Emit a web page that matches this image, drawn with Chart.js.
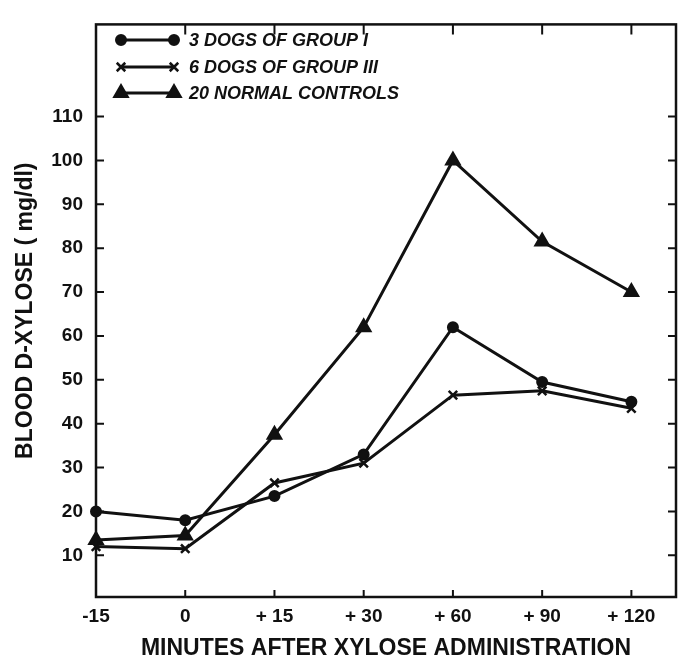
<!DOCTYPE html>
<html>
<head>
<meta charset="utf-8">
<script src="https://cdn.jsdelivr.net/npm/chart.js@4/dist/chart.umd.min.js"></script>
<style>
  html, body { margin: 0; padding: 0; background: #fff; }
  #wrap { width: 686px; height: 662px; }
</style>
</head>
<body>
<div id="wrap"><canvas id="xyloseChart" width="686" height="662"></canvas></div>
<script>
// time points (minutes after xylose administration)
const xLabels = ['-15', '0', '+ 15', '+ 30', '+ 60', '+ 90', '+ 120'];
const yTickValues = [10, 20, 30, 40, 50, 60, 70, 80, 90, 100, 110];

// blood D-xylose, mg/dl
const group1Values = [20, 18, 23.5, 33, 62, 49.5, 45];
const group3Values = [12, 11.5, 26.5, 31, 46.5, 47.5, 43.5];
const controlValues = [13.5, 14.5, 37.5, 62, 100, 81.5, 70];

const seriesNames = ['3 DOGS OF GROUP I', '6 DOGS OF GROUP III', '20 NORMAL CONTROLS'];

const ink = '#111';
const fontFamily = "'Liberation Sans', Arial, Helvetica, sans-serif";

function toPoints(values) {
  return values.map((v, i) => ({ x: i, y: v }));
}

function makeDataset(label, values, style, radius, markBorder) {
  return {
    label: label,
    data: toPoints(values),
    borderColor: ink,
    backgroundColor: ink,
    borderWidth: 3,
    pointStyle: style,
    pointRadius: radius,
    pointBorderWidth: markBorder,
    pointBackgroundColor: ink,
    pointBorderColor: ink,
    tension: 0,
    clip: false
  };
}

// frame with inward tick marks + legend drawn inside the plot
const framePlugin = {
  id: 'frame',
  afterDraw(chart) {
    const { ctx, chartArea: a, scales } = chart;
    const xs = scales.x, ys = scales.y;
    ctx.save();
    ctx.strokeStyle = ink;
    ctx.lineWidth = 2.5;
    ctx.strokeRect(a.left, a.top, a.right - a.left, a.bottom - a.top);
    ctx.lineWidth = 2;
    ctx.beginPath();
    ys.ticks.forEach(t => {
      const py = ys.getPixelForValue(t.value);
      ctx.moveTo(a.left, py); ctx.lineTo(a.left + 8, py);
      ctx.moveTo(a.right, py); ctx.lineTo(a.right - 8, py);
    });
    xs.ticks.forEach(t => {
      if (t.value === 0) return;
      const px = xs.getPixelForValue(t.value);
      ctx.moveTo(px, a.bottom); ctx.lineTo(px, a.bottom - 7);
      ctx.moveTo(px, a.top); ctx.lineTo(px, a.top + 10);
    });
    ctx.stroke();

    // legend
    const rows = [40, 67, 93];
    chart.data.datasets.forEach((ds, i) => {
      const y = rows[i];
      const x0 = 121, x1 = 174;
      ctx.lineWidth = 3;
      ctx.beginPath();
      ctx.moveTo(x0, y); ctx.lineTo(x1, y);
      ctx.stroke();
      const opts = { pointStyle: ds.pointStyle, radius: ds.pointRadius, borderWidth: ds.pointBorderWidth };
      ctx.fillStyle = ink;
      ctx.lineWidth = ds.pointBorderWidth;
      Chart.helpers.drawPoint(ctx, opts, x0, y);
      Chart.helpers.drawPoint(ctx, opts, x1, y);
      ctx.font = 'italic bold 18px ' + fontFamily;
      ctx.textBaseline = 'middle';
      ctx.textAlign = 'left';
      ctx.fillText(ds.label, 189, y + 1);
    });
    ctx.restore();
  }
};

function createXyloseChart() {
  const ctx = document.getElementById('xyloseChart').getContext('2d');
  return new Chart(ctx, {
    type: 'line',
    data: {
      datasets: [
        makeDataset(seriesNames[0], group1Values, 'circle', 5, 2),
        makeDataset(seriesNames[1], group3Values, 'crossRot', 6, 2.5),
        makeDataset(seriesNames[2], controlValues, 'triangle', 8, 2)
      ]
    },
    options: {
      responsive: false,
      animation: false,
      layout: { padding: { left: 0, right: 9, top: 9, bottom: 0 } },
      plugins: { legend: { display: false }, tooltip: { enabled: false } },
      scales: {
        x: {
          type: 'linear',
          min: 0,
          max: 6.5,
          grid: { display: false, drawTicks: false },
          border: { display: false },
          afterBuildTicks: s => { s.ticks = xLabels.map((_, i) => ({ value: i })); },
          afterFit: s => { s.height = 65; },
          ticks: {
            padding: 8,
            color: ink,
            font: { family: fontFamily, size: 19, weight: 'bold' },
            callback: v => xLabels[v],
            maxRotation: 0,
            autoSkip: false
          },
          title: {
            display: true,
            text: 'MINUTES AFTER XYLOSE ADMINISTRATION',
            color: ink,
            font: { family: fontFamily, size: 23, weight: 'bold' },
            padding: { top: 0, bottom: 0 }
          }
        },
        y: {
          min: 0.5,
          max: 131,
          grid: { display: false, drawTicks: false },
          border: { display: false },
          afterBuildTicks: s => { s.ticks = yTickValues.map(v => ({ value: v })); },
          afterFit: s => { s.width = 96; },
          ticks: {
            padding: 13,
            color: ink,
            font: { family: fontFamily, size: 19, weight: 'bold' }
          },
          title: {
            display: true,
            text: 'BLOOD D-XYLOSE ( mg/dl)',
            color: ink,
            font: { family: fontFamily, size: 23, weight: 'bold' },
            padding: { top: 12, bottom: 0 }
          }
        }
      }
    },
    plugins: [framePlugin]
  });
}

createXyloseChart();
</script>
</body>
</html>
